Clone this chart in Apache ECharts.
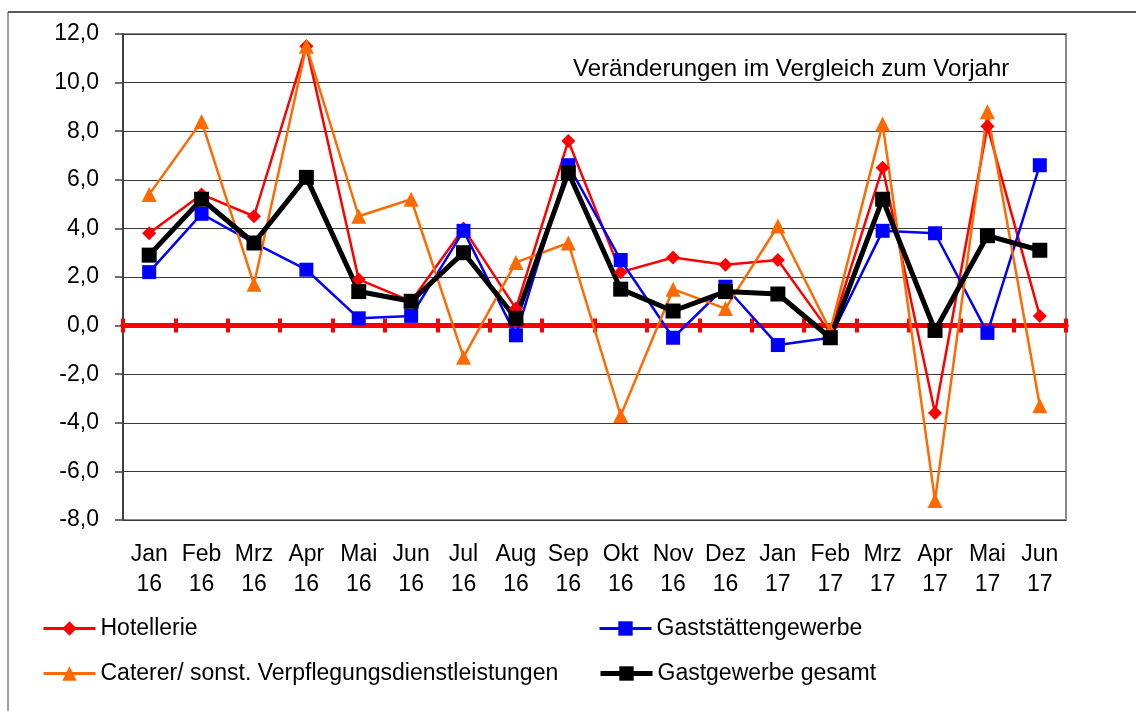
<!DOCTYPE html>
<html>
<head>
<meta charset="utf-8">
<script src="https://cdn.jsdelivr.net/npm/echarts@6/dist/echarts.min.js"></script>
<style>
html,body{margin:0;padding:0;background:#fff;}
#chart{width:1136px;height:711px;}
</style>
</head>
<body>
<div id="chart"></div>
<script>
const months = ['Jan','Feb','Mrz','Apr','Mai','Jun','Jul','Aug','Sep','Okt','Nov','Dez','Jan','Feb','Mrz','Apr','Mai','Jun'];
const years  = ['16','16','16','16','16','16','16','16','16','16','16','16','17','17','17','17','17','17'];
const categories = months.map((m, i) => m + '\n' + years[i]);

const hotellerie = [3.8, 5.4, 4.5, 11.5, 1.9, 1.0, 4.0, 0.7, 7.6, 2.2, 2.8, 2.5, 2.7, -0.3, 6.5, -3.6, 8.2, 0.4];
const gaststaetten = [2.2, 4.6, 3.4, 2.3, 0.3, 0.4, 3.9, -0.4, 6.6, 2.7, -0.5, 1.6, -0.8, -0.5, 3.9, 3.8, -0.3, 6.6];
const caterer = [5.4, 8.4, 1.7, 11.5, 4.5, 5.2, -1.3, 2.6, 3.4, -3.7, 1.5, 0.7, 4.1, -0.2, 8.3, -7.2, 8.8, -3.3];
const gesamt = [2.9, 5.2, 3.4, 6.1, 1.4, 1.0, 3.0, 0.3, 6.3, 1.5, 0.6, 1.4, 1.3, -0.5, 5.2, -0.2, 3.7, 3.1];

const seriesNames = ['Hotellerie', 'Gaststättengewerbe', 'Caterer/ sonst. Verpflegungsdienstleistungen', 'Gastgewerbe gesamt'];
const annotation = 'Veränderungen im Vergleich zum Vorjahr';
const yMin = -8, yMax = 12, yStep = 2;

const FONT = "'Liberation Sans', Arial, sans-serif";
const chart = echarts.init(document.getElementById('chart'), null, {renderer: 'canvas'});

function legendAt(name, left, top, lw) {
  return {
    data: [name], left: left, top: top, padding: 0,
    itemWidth: 52, itemHeight: 18, itemGap: 0,
    lineStyle: {width: lw},
    textStyle: {fontFamily: FONT, fontSize: 23, color: '#000'}
  };
}

chart.setOption({
  animation: false,
  backgroundColor: '#fff',
  grid: {left: 123, right: 70, top: 34, bottom: 191, outerBoundsMode: 'none', containLabel: false,
         show: true, borderColor: '#8a8a8a', borderWidth: 2, backgroundColor: 'transparent'},
  graphic: [
    {type: 'line', shape: {x1: 8, y1: 12, x2: 1136, y2: 12}, style: {stroke: '#222', lineWidth: 1.5}},
    {type: 'line', shape: {x1: 8, y1: 12, x2: 8, y2: 711}, style: {stroke: '#444', lineWidth: 1}},
    {type: 'text', left: 573, top: 57, style: {text: annotation, font: '24px ' + FONT, fill: '#000'}}
  ],
  legend: [
    legendAt(seriesNames[0], 42, 617, 3),
    legendAt(seriesNames[1], 598, 617, 3),
    legendAt(seriesNames[2], 42, 662, 3),
    legendAt(seriesNames[3], 598, 662, 5)
  ],
  xAxis: [
    {
      type: 'category', data: categories, position: 'bottom', boundaryGap: true,
      axisLine: {onZero: true, onZeroAxisIndex: 0, lineStyle: {color: '#ff0000', width: 5}},
      axisTick: {show: true, inside: false, length: 7, lineStyle: {color: '#ff0000', width: 4}},
      axisLabel: {margin: 20, fontFamily: FONT, fontSize: 23, color: '#000', lineHeight: 30, interval: 0},
      splitLine: {show: false}
    },
    {
      type: 'category', data: categories, position: 'top', boundaryGap: true,
      axisLine: {show: true, onZero: true, onZeroAxisIndex: 1, lineStyle: {color: '#ff0000', width: 5}},
      axisTick: {show: true, inside: false, length: 7, lineStyle: {color: '#ff0000', width: 4}},
      axisLabel: {show: false},
      splitLine: {show: false}
    }
  ],
  yAxis: [
    {
      type: 'value', min: yMin, max: yMax, interval: yStep,
      axisLine: {show: true, onZero: false, lineStyle: {color: '#404040', width: 2}},
      axisTick: {show: true, inside: false, length: 8, lineStyle: {color: '#404040', width: 1.5}},
      axisLabel: {margin: 24, fontFamily: FONT, fontSize: 23, color: '#000', formatter: v => v.toFixed(1).replace('.', ',')},
      splitLine: {show: true, lineStyle: {color: '#3a3a3a', width: 1.2}}
    },
    {
      type: 'value', min: yMin, max: yMax, interval: yStep, position: 'right',
      axisLine: {show: false, onZero: false}, axisTick: {show: false}, axisLabel: {show: false}, splitLine: {show: false}
    }
  ],
  series: [
    {name: seriesNames[0], type: 'line', data: hotellerie, symbol: 'diamond', symbolSize: 14,
     lineStyle: {color: '#ff0000', width: 2.5}, itemStyle: {color: '#ff0000'}},
    {name: seriesNames[1], type: 'line', data: gaststaetten, symbol: 'rect', symbolSize: 14,
     lineStyle: {color: '#0000ff', width: 2.5}, itemStyle: {color: '#0000ff'}},
    {name: seriesNames[2], type: 'line', data: caterer, symbol: 'triangle', symbolSize: 15,
     lineStyle: {color: '#ff6a00', width: 2.5}, itemStyle: {color: '#ff6a00'}},
    {name: seriesNames[3], type: 'line', data: gesamt, symbol: 'rect', symbolSize: 15,
     lineStyle: {color: '#000000', width: 5}, itemStyle: {color: '#000000'}}
  ]
});
</script>
</body>
</html>
